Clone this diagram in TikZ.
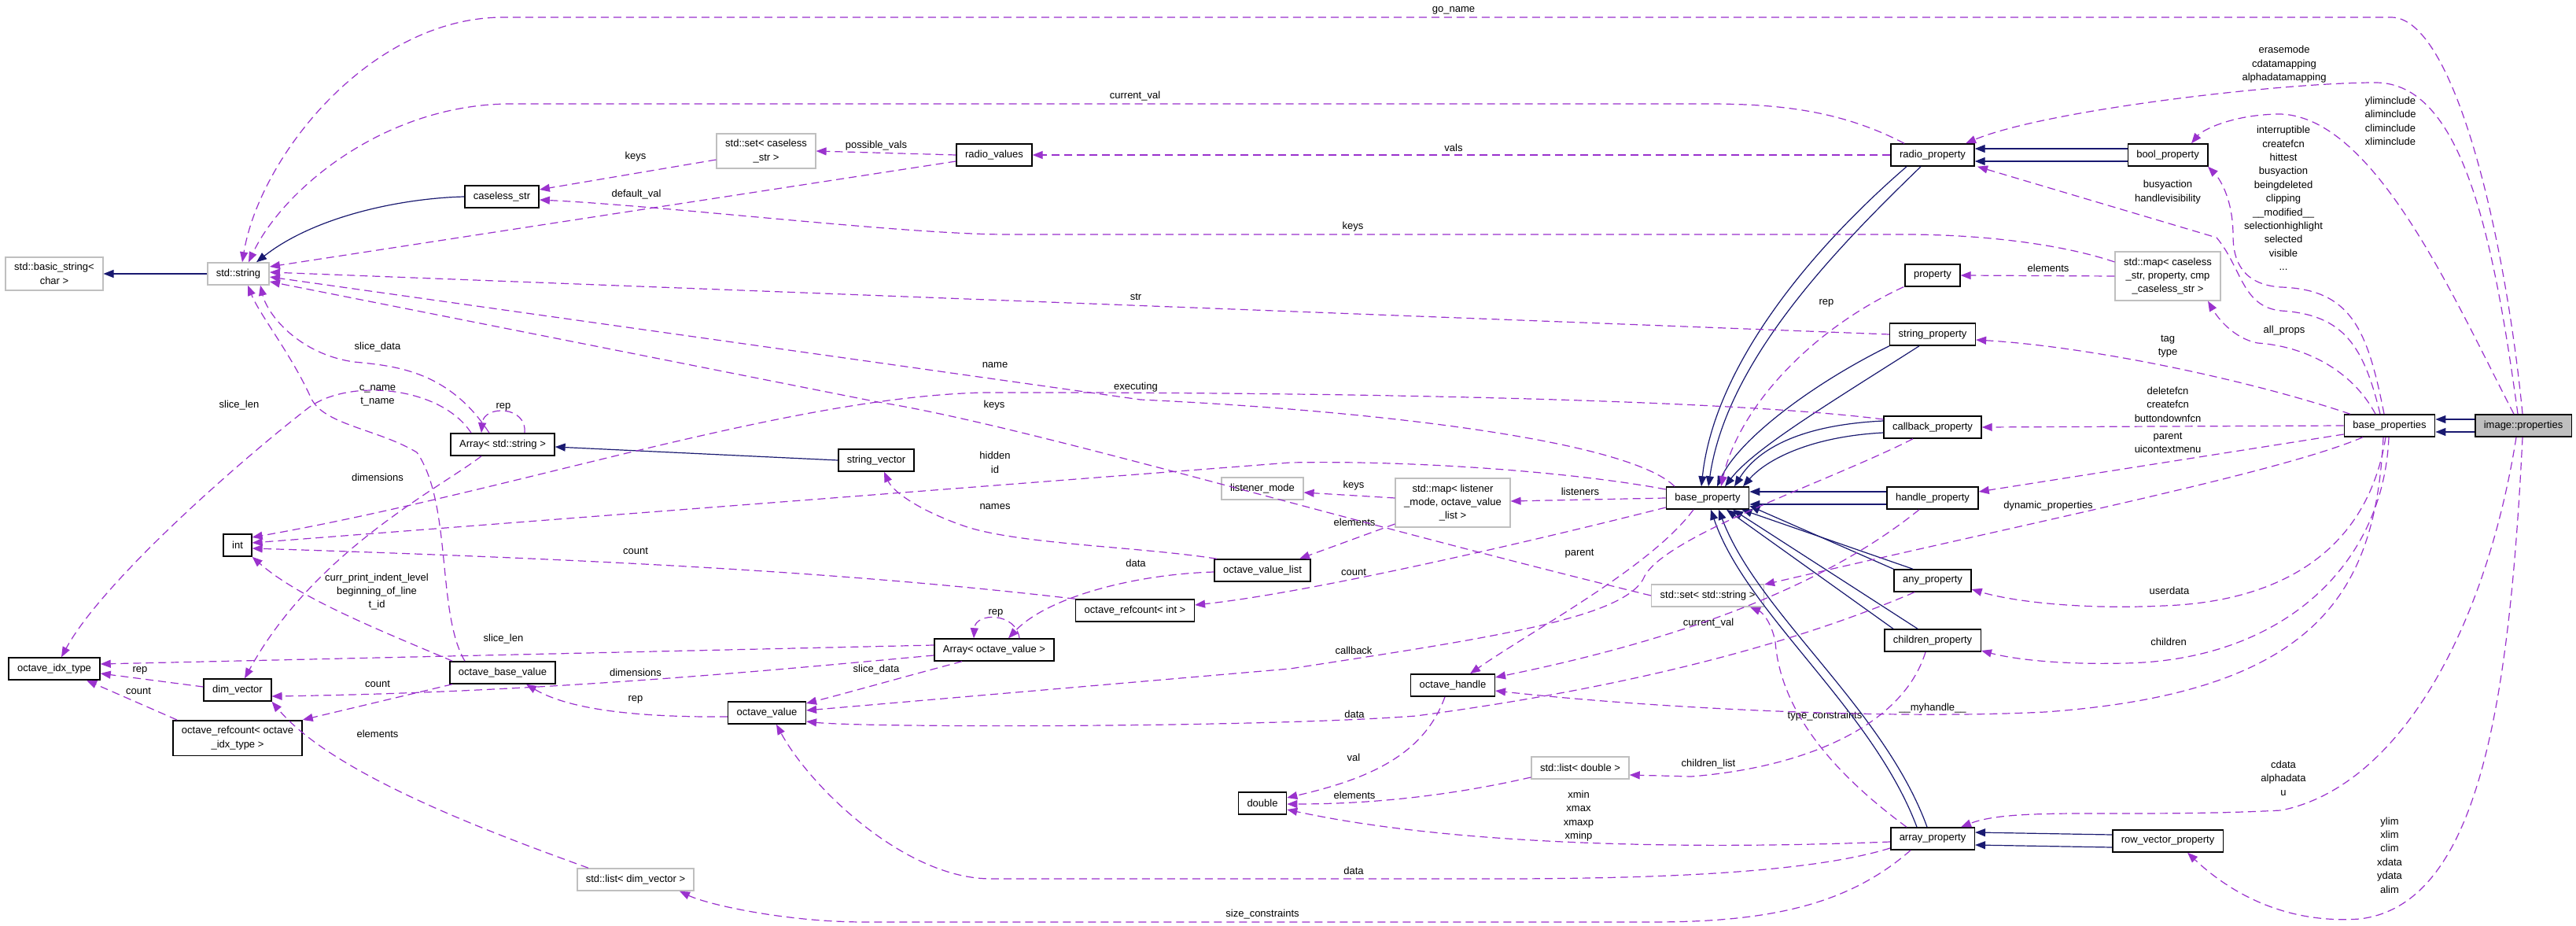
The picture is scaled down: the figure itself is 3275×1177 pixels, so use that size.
\documentclass[tikz,border=0pt]{standalone}
\usepackage{fontspec}
\setmainfont{Liberation Sans}
\usetikzlibrary{arrows.meta}
\definecolor{useline}{HTML}{9A32CD}
\definecolor{inhline}{HTML}{191970}
\definecolor{extline}{HTML}{BFBFBF}
\definecolor{curfill}{HTML}{BFBFBF}
\newcommand{\dxfont}{\fontsize{13}{17.4}\selectfont}

\begin{document}
\begin{tikzpicture}[x=1pt,y=-1pt,
  cls/.style={draw=black,line width=1.5pt,fill=white,font=\dxfont,align=center,
    inner xsep=11pt,inner ysep=7.5pt,minimum height=28pt},
  ext/.style={cls,draw=extline},
  cur/.style={cls,fill=curfill},
  lbl/.style={font=\dxfont,align=center,inner sep=0pt},
  inh/.style={draw=inhline,line width=1.2pt,-{Triangle[length=13pt,width=10pt]}},
  uses/.style={draw=useline,line width=1.2pt,dash pattern=on 10pt off 6pt,
    -{Triangle[length=13pt,width=10pt]}}]
  \useasboundingbox (0,0) rectangle (3275,1177);
  \fill[white] (0,0) rectangle (3275,1177);

  % classes
  \node[ext] (bstr) at (69,348) {std::basic\_string<\\char >};
  \node[ext] (stdstr) at (303,348) {std::string};
  \node[cls] (cstr) at (638,250) {caseless\_str};
  \node[cls] (arrstr) at (639,565) {Array< std::string >};
  \node[ext] (setcs) at (974,192) {std::set< caseless\\\_str >};
  \node[cls] (radiovals) at (1264,197) {radio\_values};
  \node[cls] (strvec) at (1114,585) {string\_vector};
  \node[cls] (radioprop) at (2457,197) {radio\_property};
  \node[cls] (boolprop) at (2756,197) {bool\_property};
  \node[cls] (prop) at (2457,350) {property};
  \node[ext] (mapcs) at (2756,351) {std::map< caseless\\\_str, property, cmp\\\_caseless\_str >};
  \node[cls] (strprop) at (2457,425) {string\_property};
  \node[cls] (cbprop) at (2457,543) {callback\_property};
  \node[cls] (baseprops) at (3038,541) {base\_properties};
  \node[cur] (imgprops) at (3208,541) {image::properties};
  \node[cls] (intcls) at (302,693) {int};
  \node[cls] (idx) at (69,850) {octave\_idx\_type};
  \node[cls] (dimvec) at (302,877) {dim\_vector};
  \node[cls] (obv) at (639,855) {octave\_base\_value};
  \node[cls] (rcidx) at (302,938) {octave\_refcount< octave\\\_idx\_type >};
  \node[ext] (listdv) at (808,1118) {std::list< dim\_vector >};
  \node[ext] (lmode) at (1605,621) {listener\_mode};
  \node[cls] (ovl) at (1605,725) {octave\_value\_list};
  \node[cls] (rcint) at (1443,776) {octave\_refcount< int >};
  \node[cls] (arrov) at (1264,826) {Array< octave\_value >};
  \node[cls] (ov) at (975,906) {octave\_value};
  \node[cls] (dbl) at (1605,1021) {double};
  \node[ext] (maplm) at (1847,639) {std::map< listener\\\_mode, octave\_value\\\_list >};
  \node[cls] (baseprop) at (2171,633) {base\_property};
  \node[cls] (hdlprop) at (2457,633) {handle\_property};
  \node[cls] (anyprop) at (2457,738) {any\_property};
  \node[ext] (setss) at (2171,757) {std::set< std::string >};
  \node[cls] (chprop) at (2457,814) {children\_property};
  \node[cls] (ohdl) at (1847,871) {octave\_handle};
  \node[ext] (listd) at (2009,976) {std::list< double >};
  \node[cls] (arrprop) at (2457,1066) {array\_property};
  \node[cls] (rvprop) at (2756,1069) {row\_vector\_property};

  % member labels
  \foreach \n/\x/\y/\txt in {
    goname/1848/13/{go\_name}, curval/1443/122/{current\_val},
    erase/2904/82/{erasemode\\cdatamapping\\alphadatamapping},
    ylimi/3039/154/{yliminclude\\aliminclude\\climinclude\\xliminclude},
    intr/2903/252/{interruptible\\createfcn\\hittest\\busyaction\\beingdeleted\\clipping\\\_\_modified\_\_\\selectionhighlight\\selected\\visible\\...},
    keysa/808/199/{keys}, posv/1114/185/{possible\_vals}, vals/1848/188/{vals},
    defv/809/247/{default\_val}, busy/2756/244/{busyaction\\handlevisibility},
    keysb/1720/288/{keys}, elema/2604/341/{elements}, repa/2322/385/{rep},
    str/1444/377/{str}, allp/2904/420/{all\_props}, tag/2756/440/{tag\\type},
    slda/480/441/{slice\_data}, name/1265/464/{name}, exec/1444/492/{executing},
    keysc/1264/515/{keys}, delf/2756/514/{deletefcn\\createfcn\\buttondownfcn},
    cname/480/503/{c\_name\\t\_name}, slla/304/515/{slice\_len}, repb/640/517/{rep},
    hid/1265/588/{hidden\\id}, par/2756/563/{parent\\uicontextmenu},
    dima/480/607/{dimensions}, keysd/1721/617/{keys}, lst/2009/625/{listeners},
    names/1265/644/{names}, dynp/2604/643/{dynamic\_properties},
    elemb/1722/664/{elements}, cnta/808/700/{count}, parb/2008/704/{parent},
    dataa/1444/716/{data}, cntb/1721/727/{count},
    cpil/479/752/{curr\_print\_indent\_level\\beginning\_of\_line\\t\_id},
    udat/2758/751/{userdata}, repc/1266/779/{rep}, curvb/2172/792/{current\_val},
    sllb/640/812/{slice\_len}, chld/2757/816/{children}, cbk/1721/827/{callback},
    sldb/1114/851/{slice\_data}, repd/178/852/{rep}, dimb/808/855/{dimensions},
    cntc/480/869/{count}, cntd/176/878/{count}, repe/808/889/{rep},
    myh/2457/900/{\_\_myhandle\_\_}, datab/1722/908/{data},
    typc/2320/910/{type\_constraints}, elemc/480/933/{elements}, val/1721/963/{val},
    chls/2172/971/{children\_list}, cdat/2903/989/{cdata\\alphadata\\u},
    elemd/1722/1011/{elements}, xmin/2007/1037/{xmin\\xmax\\xmaxp\\xminp},
    ylim/3038/1087/{ylim\\xlim\\clim\\xdata\\ydata\\alim},
    datac/1721/1107/{data}, sizc/1605/1162/{size\_constraints}} {
    \node[lbl] (l-\n) at (\x,\y) {\txt};
  }

  % inheritance
  \draw[inh] (stdstr) -- (bstr);
  \draw[inh] (cstr.west) .. controls (510,252) and (400,275) .. ([xshift=23pt]stdstr.north);
  \draw[inh] (strvec.west) -- ([yshift=-3pt]arrstr.east);
  \draw[inh] ([yshift=8pt]boolprop.west) -- ([yshift=8pt]radioprop.east);
  \draw[inh] ([yshift=-8pt]boolprop.west) -- ([yshift=-8pt]radioprop.east);
  \draw[inh] ([xshift=-33pt]radioprop.south) .. controls (2310,310) and (2180,460) .. ([xshift=-8pt]baseprop.north);
  \draw[inh] ([xshift=-15pt]radioprop.south) .. controls (2330,320) and (2195,460) .. ([xshift=1pt]baseprop.north);
  \draw[inh] (strprop.south west) .. controls (2300,490) and (2210,560) .. ([xshift=12pt]baseprop.north);
  \draw[inh] ([xshift=-17pt]strprop.south) .. controls (2330,510) and (2230,570) .. ([xshift=22pt]baseprop.north);
  \draw[inh] ([yshift=8pt]cbprop.west) .. controls (2290,540) and (2235,570) .. ([xshift=34pt]baseprop.north);
  \draw[inh] ([yshift=-7pt]cbprop.west) .. controls (2300,555) and (2245,585) .. ([xshift=45pt]baseprop.north);
  \draw[inh] ([yshift=8pt]hdlprop.west) -- ([yshift=8pt]baseprop.east);
  \draw[inh] ([yshift=-8pt]hdlprop.west) -- ([yshift=-8pt]baseprop.east);
  \draw[inh] (anyprop.north west) -- ([yshift=-10pt]baseprop.east);
  \draw[inh] ([xshift=-25pt]anyprop.north) -- ([xshift=-10pt]baseprop.south east);
  \draw[inh] ([xshift=-50pt]chprop.north) -- ([xshift=24pt]baseprop.south);
  \draw[inh] ([xshift=-19pt]chprop.north) -- ([xshift=32pt]baseprop.south);
  \draw[inh] ([xshift=-20pt]arrprop.north) .. controls (2380,900) and (2220,780) .. ([xshift=4pt]baseprop.south);
  \draw[inh] ([xshift=-7pt]arrprop.north) .. controls (2395,900) and (2235,780) .. ([xshift=14pt]baseprop.south);
  \draw[inh] ([yshift=8pt]rvprop.west) -- ([yshift=8pt]arrprop.east);
  \draw[inh] ([yshift=-8pt]rvprop.west) -- ([yshift=-8pt]arrprop.east);
  \draw[inh] ([yshift=8pt]imgprops.west) -- ([yshift=8pt]baseprops.east);
  \draw[inh] ([yshift=-8pt]imgprops.west) -- ([yshift=-8pt]baseprops.east);

  % members
  \draw[uses] ([xshift=-1pt]imgprops.north) .. controls (3185,300) and (3120,22) .. (3040,22)
    -- (640,22) .. controls (470,22) and (330,200) .. ([xshift=5pt]stdstr.north);
  \draw[uses] ([xshift=-36pt]radioprop.north) .. controls (2340,140) and (2260,132) .. (2170,132)
    -- (650,132) .. controls (490,132) and (360,240) .. ([xshift=13pt]stdstr.north);
  \draw[uses] (radioprop.west) -- (radiovals.east);
  \draw[uses] (radiovals.west) -- (setcs.east);
  \draw[uses] ([yshift=-11pt]setcs.west) -- ([yshift=9pt]cstr.east);
  \draw[uses] ([yshift=-8pt]radiovals.west) -- ([yshift=9pt]stdstr.east);
  \draw[uses] ([yshift=18pt]mapcs.west) .. controls (2620,310) and (2520,298) .. (2420,298)
    -- (1280,298) .. controls (1150,298) and (850,262) .. ([yshift=-4pt]cstr.east);
  \draw[uses] (strprop.west) -- ([yshift=2pt]stdstr.east);
  \draw[uses] ([xshift=-42pt]baseprop.north) .. controls (2070,560) and (1750,522) .. (1450,508)
    -- ([yshift=-4pt]stdstr.east);
  \draw[uses] ([yshift=10pt]cbprop.west) .. controls (2200,508) and (1700,498) .. (1250,499)
    .. controls (1000,505) and (650,625) .. ([yshift=10pt]intcls.east);
  \draw[uses] ([yshift=11pt]baseprop.west) .. controls (2000,600) and (1800,585) .. (1640,588)
    -- ([yshift=3pt]intcls.east);
  \draw[uses] (setss.west) .. controls (1700,660) and (1300,540) .. (1116,511)
    -- ([yshift=-10pt]stdstr.east);
  \draw[uses] (rcint.north west) .. controls (1100,730) and (800,712) .. ([yshift=-4pt]intcls.east);
  \draw[uses] ([xshift=4pt]obv.north west) .. controls (480,800) and (380,760) .. (intcls.south east);
  \draw[uses] ([xshift=-40pt]arrstr.north) .. controls (560,490) and (440,480) .. (390,520)
    .. controls (300,590) and (130,740) .. ([xshift=9pt]idx.north);
  \draw[uses] ([xshift=-17pt]arrstr.north) .. controls (570,470) and (500,465) .. (450,460)
    .. controls (380,450) and (340,400) .. ([xshift=28pt]stdstr.south);
  \draw[uses] ([xshift=28pt]arrstr.north) .. controls (670,515) and (615,515) .. ([xshift=-27pt]arrstr.north);
  \draw[uses] ([xshift=-48pt]obv.north) .. controls (555,780) and (575,640) .. (530,575)
    .. controls (480,545) and (410,540) .. (395,505) .. controls (370,450) and (330,400)
    .. ([xshift=12pt]stdstr.south);
  \draw[uses] ([xshift=-27pt]arrstr.south) .. controls (560,620) and (400,700) .. ([xshift=9pt]dimvec.north);
  \draw[uses] ([yshift=4pt]dimvec.west) -- ([yshift=-6pt]idx.east);
  \draw[uses] ([xshift=-77pt]rcidx.north) -- ([xshift=41pt]idx.south);
  \draw[uses] ([yshift=6pt]arrov.west) -- ([yshift=6pt]idx.east);
  \draw[uses] ([yshift=-7pt]arrov.west) .. controls (1000,850) and (700,880) .. ([yshift=-8pt]dimvec.east);
  \draw[uses] ([xshift=-64pt]obv.south) -- (rcidx.north east);
  \draw[uses] ([xshift=-60pt]listdv.north) .. controls (600,1050) and (420,980) .. (dimvec.south east);
  \draw[uses] ([yshift=-5pt]ov.west) .. controls (800,912) and (720,900) .. ([xshift=30pt]obv.south);
  \draw[uses] ([xshift=-41pt]arrov.south) .. controls (1150,860) and (1080,880) .. ([yshift=12pt]ov.east);
  \draw[uses] ([xshift=32pt]arrov.north) .. controls (1292,778) and (1240,778) .. ([xshift=-26pt]arrov.north);
  \draw[uses] ([yshift=-2pt]ovl.west) .. controls (1440,730) and (1330,760) .. ([xshift=18pt]arrov.north);
  \draw[uses] ([xshift=-58pt]ovl.north) .. controls (1450,695) and (1300,692) .. (1230,670)
    .. controls (1170,650) and (1135,625) .. ([xshift=10pt]strvec.south);
  \draw[uses] ([yshift=-12pt]baseprop.west) .. controls (1900,700) and (1650,755) .. ([yshift=7pt]rcint.east);
  \draw[uses] ([yshift=6pt]maplm.west) -- ([yshift=-5pt]lmode.east);
  \draw[uses] ([yshift=-27pt]maplm.west) -- ([xshift=47pt]ovl.north);
  \draw[uses] (baseprop.west) -- ([yshift=2pt]maplm.east);
  \draw[uses] ([xshift=-18pt]baseprop.south) .. controls (2100,720) and (1950,800) .. ([xshift=22pt]ohdl.north);
  \draw[uses] ([xshift=-25pt]cbprop.south) .. controls (2330,610) and (2120,680) .. (2091,732)
    .. controls (2070,785) and (1900,810) .. (1640,850) -- ([yshift=3pt]ov.east);
  \draw[uses] ([xshift=-23pt]anyprop.south) .. controls (2300,810) and (2100,870) .. (1800,910)
    .. controls (1600,925) and (1100,925) .. ([yshift=-11pt]ov.east);
  \draw[uses] ([xshift=-17pt]hdlprop.south) .. controls (2350,720) and (2200,800) .. ([yshift=10pt]ohdl.east);
  \draw[uses] ([xshift=-8pt]baseprops.south) .. controls (3020,750) and (2950,880) .. (2600,905)
    .. controls (2400,915) and (2100,900) .. ([yshift=-7pt]ohdl.east);
  \draw[uses] ([xshift=-5pt]baseprops.south) .. controls (3010,700) and (2900,765) .. (2750,770)
    .. controls (2650,775) and (2560,765) .. ([yshift=-11pt]anyprop.east);
  \draw[uses] ([xshift=-1pt]baseprops.south) .. controls (3030,720) and (2900,840) .. (2700,843)
    .. controls (2620,845) and (2560,838) .. ([yshift=-13pt]chprop.east);
  \draw[uses] ([xshift=-34pt]baseprops.south) .. controls (2900,600) and (2600,660) .. ([yshift=14pt]setss.east);
  \draw[uses] ([yshift=-11pt]baseprops.west) -- ([yshift=8pt]hdlprop.east);
  \draw[uses] (baseprops.west) -- (cbprop.east);
  \draw[uses] ([xshift=-50pt]baseprops.north) .. controls (2850,480) and (2650,440) .. ([yshift=-7pt]strprop.east);
  \draw[uses] ([xshift=-18pt]baseprops.north) .. controls (2990,470) and (2930,440) .. (2870,436)
    .. controls (2840,430) and (2820,405) .. ([xshift=51pt]mapcs.south);
  \draw[uses] ([xshift=-12pt]baseprops.north) .. controls (3005,440) and (2980,400) .. (2900,395)
    .. controls (2850,390) and (2850,340) .. (2818,302) -- ([xshift=57pt]radioprop.south);
  \draw[uses] ([xshift=-7pt]baseprops.north) .. controls (3010,420) and (2990,368) .. (2900,365)
    .. controls (2850,362) and (2839,330) .. (2839,300) .. controls (2839,250) and (2820,225)
    .. ([xshift=51pt]boolprop.south);
  \draw[uses] ([xshift=-7pt]imgprops.north) .. controls (3170,300) and (3130,105) .. (3020,105)
    .. controls (2900,105) and (2600,140) .. ([xshift=42pt]radioprop.north);
  \draw[uses] ([xshift=-12pt]imgprops.north) .. controls (3120,380) and (3020,150) .. (2900,145)
    .. controls (2840,145) and (2800,165) .. ([xshift=30pt]boolprop.north);
  \draw[uses] ([xshift=-9pt]imgprops.south) .. controls (3160,800) and (3050,1000) .. (2900,1030)
    .. controls (2700,1040) and (2560,1025) .. ([xshift=36pt]arrprop.north);
  \draw[uses] ([xshift=-1pt]imgprops.south) .. controls (3190,900) and (3150,1150) .. (3000,1168)
    .. controls (2900,1175) and (2830,1130) .. ([xshift=25pt]rvprop.south);
  \draw[uses] ([xshift=-33pt]arrprop.north) .. controls (2300,960) and (2262,880) .. (2257,816)
    .. controls (2252,790) and (2240,778) .. ([xshift=54pt]setss.south);
  \draw[uses] ([xshift=-9pt]chprop.south) .. controls (2420,920) and (2300,975) .. (2150,987)
    -- ([yshift=-9pt]listd.east);
  \draw[uses] ([xshift=-10pt]ohdl.south) .. controls (1810,960) and (1740,990) .. ([yshift=7pt]dbl.east);
  \draw[uses] ([yshift=-12pt]listd.west) .. controls (1850,1010) and (1750,1022) .. ([yshift=-1pt]dbl.east);
  \draw[uses] ([yshift=-4pt]arrprop.west) .. controls (2150,1080) and (1850,1075) .. ([yshift=-8pt]dbl.east);
  \draw[uses] ([yshift=-12pt]arrprop.west) .. controls (2300,1110) and (2100,1117) .. (1900,1117)
    -- (1260,1117) .. controls (1150,1117) and (1030,1000) .. ([xshift=12pt]ov.south);
  \draw[uses] ([xshift=-28pt]arrprop.south) .. controls (2350,1150) and (2250,1172) .. (2100,1172)
    -- (1100,1172) .. controls (1000,1172) and (900,1150) .. ([xshift=56pt]listdv.south);
  \draw[uses] (mapcs.west) -- (prop.east);
  \draw[uses] ([xshift=-37pt]prop.south) .. controls (2300,420) and (2210,520) .. ([xshift=17pt]baseprop.north);
\end{tikzpicture}
\end{document}
